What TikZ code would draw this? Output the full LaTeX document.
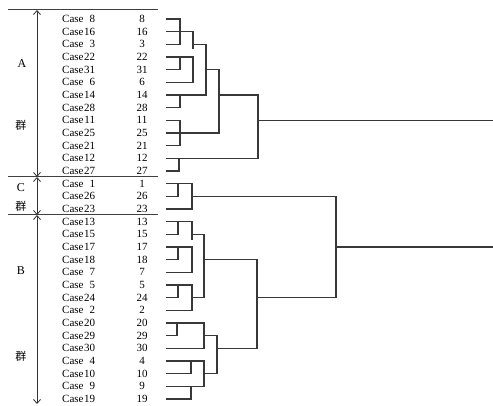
\documentclass[tikz,border=0pt]{standalone}
\usepackage{fontspec}
\setmainfont{Liberation Serif}
\newfontfamily\cjk{Noto Sans CJK SC}
\usetikzlibrary{arrows.meta}
\begin{document}
\begin{tikzpicture}[x=1pt,y=-1pt,
  dend/.style={line width=1.1pt,draw=black!78,line join=miter},
  rulel/.style={line width=1pt,draw=black!75},
  arr/.style={line width=0.8pt,draw=black!80,{Straight Barb[length=4pt,width=7pt]}-{Straight Barb[length=4pt,width=7pt]}},
  caselab/.style={anchor=west,inner sep=0pt,font=\fontsize{11}{12}\selectfont},
  numlab/.style={inner sep=0pt,font=\fontsize{11}{12}\selectfont},
  grp/.style={inner sep=0pt,font=\fontsize{12}{13}\selectfont},
  grpc/.style={inner sep=0pt,font=\cjk\fontsize{11}{13}\selectfont}]
\useasboundingbox (0,0) rectangle (493,406);
\fill[white] (0,0) rectangle (493,406);
% rows
\foreach \c [count=\k from 0] in {8,16,3,22,31,6,14,28,11,25,21,12,27,1,26,23,13,15,17,18,7,5,24,2,20,29,30,4,10,9,19}{
  \pgfmathsetmacro\yy{19+12.667*\k}
  \node[caselab] (c\c) at (62,\yy) {Case\makebox[11.5pt][r]{\c}};
  \node[numlab] (n\c) at (142,\yy) {\c};
  \coordinate (l\c) at (166,\yy);
}
% columns
\foreach \x in {177,178,179,180,191,192,193,204,206,217,219,257,258,336}{\coordinate (k\x) at (\x,0);}
\coordinate (kR) at (493,0);
% group A
\draw[dend] (l8) -- (l8-|k180) -- (l3-|k180) -- (l3);
\draw[dend] (l16) -- (l16-|k193) -- (193,49.5);
\draw[dend] (l3-|k193) -- (l3-|k206) -- (l14-|k206) -- (l14);
\draw[dend] (l22) -- (l22-|k193) -- (l6-|k193) -- (l6);
\draw[dend] (l31) -- (l31-|k180) -- (l22-|k180);
\draw[dend] (l31-|k206) -- (l31-|k219) -- (l25-|k219) -- (l25);
\draw[dend] (l28) -- (l28-|k180) -- (l14-|k180);
\draw[dend] (l11) -- (l11-|k180) -- (l21-|k180) -- (l21);
\draw[dend] (l14-|k219) -- (l14-|k258) -- (l12-|k258) -- (l12);
\draw[dend] (l27) -- (l27-|k179) -- (l12-|k179);
\draw[dend] (l11-|k258) -- (l11-|kR);
% group C
\draw[dend] (l1) -- (l1-|k192) -- (l23-|k192) -- (l23);
\draw[dend] (l26) -- (l26-|k178) -- (l1-|k178);
\draw[dend] (l26-|k192) -- (l26-|k336) -- (l24-|k336) -- (l24-|k257);
\draw[dend] (l17-|k336) -- (l17-|kR);
% group B
\draw[dend] (l13) -- (l13-|k192) -- (192,240);
\draw[dend] (l15) -- (l15-|k178) -- (l13-|k178);
\draw[dend] (l15-|k192) -- (l15-|k204) -- (l24-|k204) -- (l24-|k192);
\draw[dend] (l17) -- (l17-|k192) -- (l7-|k192) -- (l7);
\draw[dend] (l18) -- (l18-|k178) -- (l17-|k178);
\draw[dend] (l18-|k204) -- (l18-|k257) -- (l30-|k257) -- (l30-|k217);
\draw[dend] (l29-|k204) -- (l29-|k217) -- (l10-|k217) -- (l10-|k204);
\draw[dend] (l5) -- (l5-|k192) -- (l2-|k192) -- (l2);
\draw[dend] (l24) -- (l24-|k178) -- (l5-|k178);
\draw[dend] (l20) -- (l20-|k204) -- (l30-|k204) -- (l30);
\draw[dend] (l29) -- (l29-|k177) -- (l20-|k177);
\draw[dend] (l4) -- (l4-|k204) -- (l9-|k204) -- (l9);
\draw[dend] (l10) -- (l10-|k191) -- (l4-|k191);
\draw[dend] (l19) -- (l19-|k191) -- (l9-|k191);
% left rules and arrows
\coordinate (ra) at (8,10); \coordinate (rb) at (8,177); \coordinate (rc) at (8,215);
\coordinate (ea) at (158,10); \coordinate (eb) at (158,177); \coordinate (ec) at (158,215);
\draw[rulel] (ra) -- (ea);
\draw[rulel] (rb) -- (eb);
\draw[rulel] (rc) -- (ec);
\coordinate (va) at (37,10); \coordinate (vb) at (37,177); \coordinate (vc) at (37,215); \coordinate (vd) at (37,404);
\draw[arr] (va) -- (vb);
\draw[arr] (vb) -- (vc);
\draw[arr] (vc) -- (vd);
% group labels
\node[grp] (gA) at (22,64) {A};
\node[grpc] (qA) at (21,125) {群};
\node[grp] (gC) at (21,188) {C};
\node[grpc] (qC) at (21,206) {群};
\node[grp] (gB) at (21,271) {B};
\node[grpc] (qB) at (21,356) {群};
\end{tikzpicture}
\end{document}
